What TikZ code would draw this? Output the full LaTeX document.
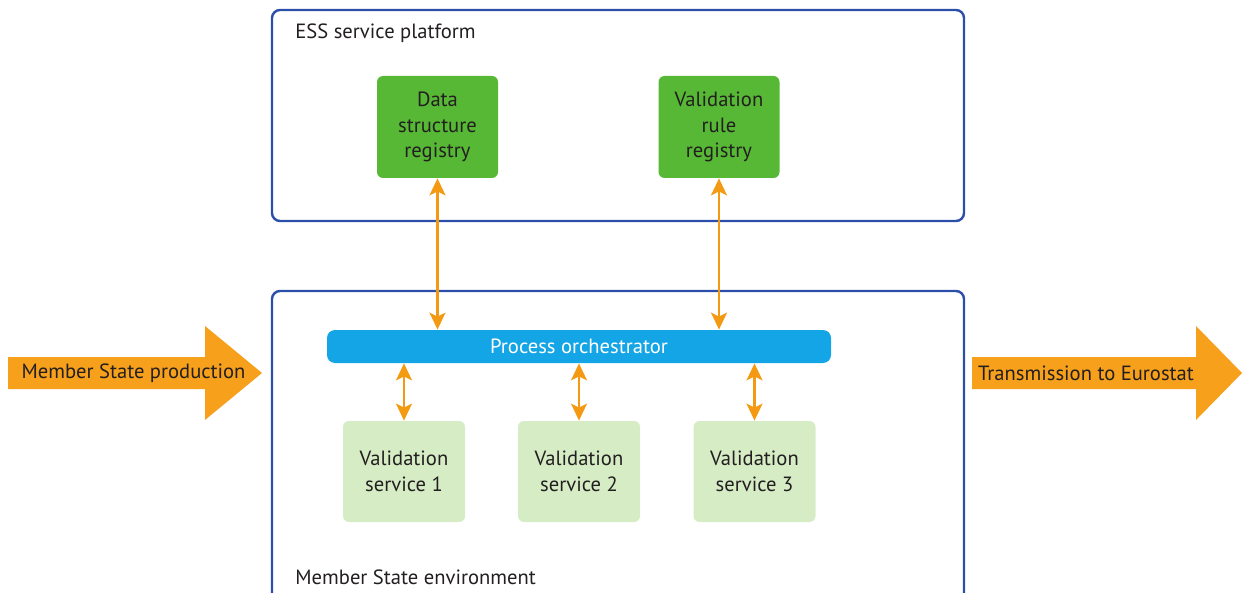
\documentclass[tikz,border=0pt]{standalone}
\usepackage{fontspec}
\setmainfont{PT Sans}
\usepackage{tikz}
\usetikzlibrary{arrows.meta}
\usetikzlibrary{positioning}

\definecolor{frameblue}{HTML}{2B4EA8}
\definecolor{regreen}{HTML}{56B834}
\definecolor{svgreen}{HTML}{D5ECC5}
\definecolor{orchblue}{HTML}{13A5E5}
\definecolor{linkorange}{HTML}{F39A12}
\definecolor{floworange}{HTML}{F7A01B}
\definecolor{textgrey}{HTML}{231F20}

\begin{document}
\begin{tikzpicture}[x=0.5pt, y=-0.5pt,
    every node/.style = {font=\fontsize{10.3}{12.75}\selectfont,
      text=textgrey, align=center, inner sep=0pt},
    area/.style = {draw=frameblue, line width=1.2pt, rounded corners=4pt},
    registry/.style = {fill=regreen, rounded corners=3pt,
      minimum width=60.5pt, minimum height=51pt},
    service/.style = {fill=svgreen, rounded corners=3pt,
      minimum width=61pt, minimum height=50.5pt},
    link/.style = {draw=linkorange, line width=1.1pt,
      {Stealth[length=8.5pt, width=8pt, inset=2pt]}-{Stealth[length=8.5pt, width=8pt, inset=2pt]}},
    flow/.style = {fill=floworange}]
  \useasboundingbox (0,0) rectangle (1242,593);

  % platform and environment
  \draw[area] (272,10) rectangle (964,221);
  \draw[area] (272,291) rectangle (964,640);
  \node[anchor=west] (esslabel) at (295,33) {ESS service platform};
  \node[anchor=west] (mslabel) at (295,577) {Member State environment};

  % registries
  \node[registry] (dsr) at (437.5,127) {Data\\structure\\registry};
  \node[registry] (vrr) at (719,127) {Validation\\rule\\registry};

  % orchestrator
  \node[fill=orchblue, rounded corners=4pt, minimum width=252pt,
    minimum height=16.5pt, text=white] (orch) at (579,346.5) {Process orchestrator};

  % services
  \node[service] (vs1) at (404,471.5) {Validation\\service 1};
  \node[service] (vs2) at (579,471.5) {Validation\\service 2};
  \node[service] (vs3) at (754.5,471.5) {Validation\\service 3};

  \draw[link] (dsr.south) -- (dsr.south |- orch.north);
  \draw[link] (vrr.south) -- (vrr.south |- orch.north);
  \foreach \s in {vs1,vs2,vs3}
    \draw[link] (orch.south -| \s.north) -- (\s.north);

  % in and out
  \fill[flow] (8,357) -- (205,357) -- (205,326) -- (262,373)
    -- (205,420) -- (205,389) -- (8,389) -- cycle;
  \node (msprod) at (133.5,373) {Member State production};
  \fill[flow] (972,357) -- (1196,357) -- (1196,326) -- (1242,373)
    -- (1196,420) -- (1196,389) -- (972,389) -- cycle;
  \node (transm) at (1086,373) {Transmission to Eurostat};
\end{tikzpicture}
\end{document}
